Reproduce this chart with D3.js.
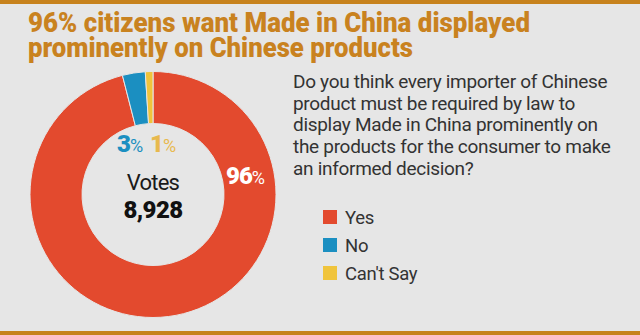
<!DOCTYPE html>
<html><head><meta charset="utf-8">
<script src="https://cdn.jsdelivr.net/npm/d3@7"></script>
<style>body{margin:0;background:#e6e6e6;}svg{display:block;}</style>
</head><body>
<script>
const categories = ["Yes", "No", "Can't Say"];
const values = [96, 3, 1];
const colors = ["#e34a2e", "#1b8fc1", "#f0c43c"];
const labelColors = ["#ffffff", "#1b8fc1", "#e8b94e"];
const totalVotes = "8,928";
const titleLines = ["96% citizens want Made in China displayed", "prominently on Chinese products"];
const questionLines = ["Do you think every importer of Chinese", "product must be required by law to", "display Made in China prominently on", "the products for the consumer to make", "an informed decision?"];

const W = 640, H = 335;
const svg = d3.select("body").append("svg").attr("width", W).attr("height", H);
svg.append("rect").attr("width", W).attr("height", H).attr("fill", "#e6e6e6");
svg.append("rect").attr("width", W).attr("height", 4).attr("fill", "#c7821c");
svg.append("rect").attr("y", 331).attr("width", W).attr("height", 4).attr("fill", "#c7821c");

// title (one text element, two lines)
const tw = [502, 385];
const title = svg.append("text")
  .attr("font-family", "'Liberation Sans Narrow', 'Roboto', sans-serif")
  .attr("font-weight", 900).attr("font-size", 27).attr("fill", "#c9821f");
titleLines.forEach((t, i) => {
  title.append("tspan").attr("x", 28).attr("y", 32 + i * 24.5)
    .attr("textLength", tw[i]).attr("lengthAdjust", "spacingAndGlyphs")
    .text(t);
});

// donut
const cx = 153, cy = 194.5, rO = 123, rI = 71;
const pie = d3.pie().sort(null).value(d => d);
const arcs = pie(values);
const arc = d3.arc().innerRadius(rI).outerRadius(rO);
const g = svg.append("g").attr("transform", `translate(${cx},${cy})`);
g.selectAll("path").data(arcs).join("path")
  .attr("d", arc).attr("fill", (d, i) => colors[i])
  .attr("stroke", "#e6e6e6").attr("stroke-width", 1);

// labels
const lab = g.append("g").attr("font-family", "Roboto, sans-serif");
const labelCfg = [
  {x: 73, y: -11},
  {x: -36, y: -43},
  {x: -3, y: -43}
];
arcs.forEach((a, i) => {
  const t = lab.append("text").attr("x", labelCfg[i].x).attr("y", labelCfg[i].y)
    .attr("fill", labelColors[i]);
  t.append("tspan").attr("font-size", 24).attr("font-weight", 900).attr("letter-spacing", -1).text(values[i]);
  t.append("tspan").attr("font-size", 18).attr("font-weight", 400).text("%");
});

g.append("text").attr("y", -5).attr("text-anchor", "middle")
  .attr("font-family", "Roboto, sans-serif").attr("font-size", 22).attr("fill", "#1a1a1a")
  .attr("letter-spacing", -0.8).text("Votes");
g.append("text").attr("y", 23).attr("text-anchor", "middle")
  .attr("font-family", "Roboto, sans-serif").attr("font-weight", 900).attr("font-size", 24).attr("fill", "#111")
  .attr("letter-spacing", -0.6).text(totalVotes);

// question
const q = svg.append("g").attr("font-family", "Roboto, sans-serif").attr("font-size", 19).attr("fill", "#333");
questionLines.forEach((t, i) => {
  q.append("text").attr("x", 293).attr("y", 88 + i * 21.7).attr("letter-spacing", -0.3).text(t);
});

// legend
const leg = svg.append("g").attr("transform", "translate(323,210)");
categories.forEach((c, i) => {
  const row = leg.append("g").attr("transform", `translate(0,${i * 28})`);
  row.append("rect").attr("width", 14).attr("height", 14).attr("fill", colors[i]);
  row.append("text").attr("x", 22).attr("y", 13.5).attr("font-family", "Roboto, sans-serif")
    .attr("font-size", 18.5).attr("fill", "#333").attr("letter-spacing", -0.3).text(c);
});
</script>
</body></html>
